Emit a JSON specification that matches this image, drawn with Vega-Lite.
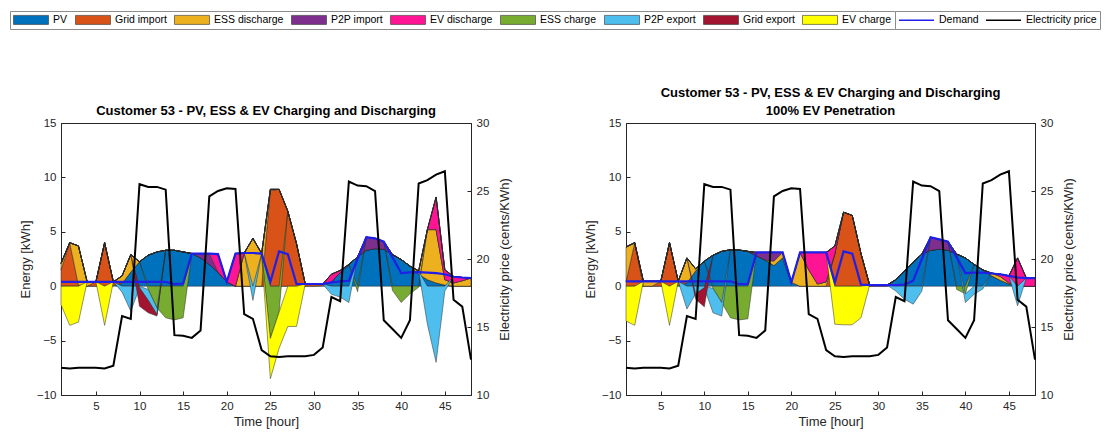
{
"$schema": "https://vega.github.io/schema/vega-lite/v6.json",
"padding": {"left": 9, "top": 10, "right": 5, "bottom": 5},
"bounds": "flush",
"spacing": 155,
"datasets": {
"stackorder": [{"series":"PV","rank":1},{"series":"Grid import","rank":2},{"series":"ESS discharge","rank":3},{"series":"P2P import","rank":4},{"series":"EV discharge","rank":5},{"series":"ESS charge","rank":6},{"series":"P2P export","rank":7},{"series":"Grid export","rank":8},{"series":"EV charge","rank":9}],
"left": [
{"h":1,"PV":0,"Grid import":1.5,"ESS discharge":0.6,"P2P import":0,"EV discharge":0,"ESS charge":0,"P2P export":0,"Grid export":0,"EV charge":-1.7,"Demand":0.4,"Price":12.0},
{"h":2,"PV":0,"Grid import":4.0,"ESS discharge":0,"P2P import":0,"EV discharge":0,"ESS charge":0,"P2P export":0,"Grid export":0,"EV charge":-3.6,"Demand":0.4,"Price":11.95},
{"h":3,"PV":0,"Grid import":0.1,"ESS discharge":3.6,"P2P import":0,"EV discharge":0,"ESS charge":0,"P2P export":0,"Grid export":0,"EV charge":-3.3,"Demand":0.4,"Price":12.0},
{"h":4,"PV":0,"Grid import":0,"ESS discharge":0.4,"P2P import":0,"EV discharge":0,"ESS charge":0,"P2P export":0,"Grid export":0,"EV charge":0,"Demand":0.4,"Price":12.0},
{"h":5,"PV":0,"Grid import":0.4,"ESS discharge":0,"P2P import":0,"EV discharge":0,"ESS charge":0,"P2P export":0,"Grid export":0,"EV charge":0,"Demand":0.4,"Price":12.0},
{"h":6,"PV":0,"Grid import":4.0,"ESS discharge":0,"P2P import":0,"EV discharge":0,"ESS charge":0,"P2P export":0,"Grid export":0,"EV charge":-3.6,"Demand":0.4,"Price":11.95},
{"h":7,"PV":0.05,"Grid import":0.35,"ESS discharge":0,"P2P import":0,"EV discharge":0,"ESS charge":0,"P2P export":0,"Grid export":0,"EV charge":0,"Demand":0.4,"Price":12.15},
{"h":8,"PV":0.25,"Grid import":0,"ESS discharge":0.7,"P2P import":0,"EV discharge":0,"ESS charge":0,"P2P export":-0.55,"Grid export":0,"EV charge":0,"Demand":0.4,"Price":15.8},
{"h":9,"PV":1.3,"Grid import":0,"ESS discharge":1.6,"P2P import":0,"EV discharge":0,"ESS charge":0,"P2P export":-2.3,"Grid export":0,"EV charge":0,"Demand":0.4,"Price":15.6},
{"h":10,"PV":2.25,"Grid import":0,"ESS discharge":0,"P2P import":0,"EV discharge":0,"ESS charge":0,"P2P export":-0.15,"Grid export":-1.7,"EV charge":0,"Demand":0.4,"Price":25.5},
{"h":11,"PV":2.85,"Grid import":0,"ESS discharge":0,"P2P import":0,"EV discharge":0,"ESS charge":-0.3,"P2P export":-1.0,"Grid export":-1.15,"EV charge":0,"Demand":0.4,"Price":25.3},
{"h":12,"PV":3.15,"Grid import":0,"ESS discharge":0,"P2P import":0,"EV discharge":0,"ESS charge":-2.0,"P2P export":-0.6,"Grid export":-0.15,"EV charge":0,"Demand":0.4,"Price":25.3},
{"h":13,"PV":3.3,"Grid import":0,"ESS discharge":0,"P2P import":0,"EV discharge":0,"ESS charge":-2.9,"P2P export":0,"Grid export":0,"EV charge":0,"Demand":0.4,"Price":25.1},
{"h":14,"PV":3.3,"Grid import":0,"ESS discharge":0,"P2P import":0,"EV discharge":0,"ESS charge":-3.1,"P2P export":0,"Grid export":0,"EV charge":0,"Demand":0.2,"Price":14.4},
{"h":15,"PV":3.15,"Grid import":0,"ESS discharge":0,"P2P import":0,"EV discharge":0,"ESS charge":-2.9,"P2P export":0,"Grid export":0,"EV charge":0,"Demand":0.25,"Price":14.35},
{"h":16,"PV":3.0,"Grid import":0,"ESS discharge":0,"P2P import":0,"EV discharge":0,"ESS charge":0,"P2P export":0,"Grid export":0,"EV charge":0,"Demand":3.0,"Price":14.2},
{"h":17,"PV":2.6,"Grid import":0,"ESS discharge":0,"P2P import":0.4,"EV discharge":0,"ESS charge":0,"P2P export":0,"Grid export":0,"EV charge":0,"Demand":3.0,"Price":14.75},
{"h":18,"PV":2.0,"Grid import":0,"ESS discharge":0,"P2P import":1.0,"EV discharge":0,"ESS charge":0,"P2P export":0,"Grid export":0,"EV charge":0,"Demand":3.0,"Price":24.6},
{"h":19,"PV":1.3,"Grid import":0,"ESS discharge":0,"P2P import":0,"EV discharge":1.65,"ESS charge":0,"P2P export":0,"Grid export":0,"EV charge":0,"Demand":2.95,"Price":25.0},
{"h":20,"PV":0.4,"Grid import":0,"ESS discharge":0,"P2P import":0,"EV discharge":0,"ESS charge":0,"P2P export":0,"Grid export":0,"EV charge":0,"Demand":0.4,"Price":25.2},
{"h":21,"PV":0,"Grid import":0,"ESS discharge":0,"P2P import":0,"EV discharge":3.0,"ESS charge":0,"P2P export":0,"Grid export":0,"EV charge":0,"Demand":3.0,"Price":25.15},
{"h":22,"PV":0,"Grid import":0,"ESS discharge":3.05,"P2P import":0,"EV discharge":0,"ESS charge":0,"P2P export":0,"Grid export":0,"EV charge":0,"Demand":3.05,"Price":15.95},
{"h":23,"PV":0,"Grid import":0,"ESS discharge":4.4,"P2P import":0,"EV discharge":0,"ESS charge":0,"P2P export":-1.3,"Grid export":0,"EV charge":0,"Demand":3.05,"Price":15.6},
{"h":24,"PV":0,"Grid import":0,"ESS discharge":3.0,"P2P import":0,"EV discharge":0,"ESS charge":0,"P2P export":0,"Grid export":0,"EV charge":0,"Demand":3.0,"Price":13.3},
{"h":25,"PV":0,"Grid import":8.8,"ESS discharge":0.1,"P2P import":0,"EV discharge":0,"ESS charge":-4.8,"P2P export":0,"Grid export":0,"EV charge":-3.7,"Demand":0.4,"Price":12.85},
{"h":26,"PV":0,"Grid import":8.9,"ESS discharge":0,"P2P import":0,"EV discharge":0,"ESS charge":-2.4,"P2P export":0,"Grid export":0,"EV charge":-3.3,"Demand":3.2,"Price":12.8},
{"h":27,"PV":0,"Grid import":6.9,"ESS discharge":0,"P2P import":0,"EV discharge":0,"ESS charge":0,"P2P export":0,"Grid export":0,"EV charge":-3.7,"Demand":2.95,"Price":12.85},
{"h":28,"PV":0,"Grid import":3.9,"ESS discharge":0,"P2P import":0,"EV discharge":0,"ESS charge":0,"P2P export":0,"Grid export":0,"EV charge":-3.7,"Demand":0.2,"Price":12.85},
{"h":29,"PV":0,"Grid import":0.2,"ESS discharge":0,"P2P import":0,"EV discharge":0,"ESS charge":0,"P2P export":0,"Grid export":0,"EV charge":0,"Demand":0.2,"Price":12.85},
{"h":30,"PV":0,"Grid import":0.2,"ESS discharge":0,"P2P import":0,"EV discharge":0,"ESS charge":0,"P2P export":0,"Grid export":0,"EV charge":0,"Demand":0.2,"Price":12.95},
{"h":31,"PV":0.05,"Grid import":0.15,"ESS discharge":0,"P2P import":0,"EV discharge":0,"ESS charge":0,"P2P export":0,"Grid export":0,"EV charge":0,"Demand":0.2,"Price":13.5},
{"h":32,"PV":0.4,"Grid import":0,"ESS discharge":0,"P2P import":0,"EV discharge":0.7,"ESS charge":0,"P2P export":-0.75,"Grid export":0,"EV charge":0,"Demand":0.35,"Price":17.2},
{"h":33,"PV":1.25,"Grid import":0,"ESS discharge":0,"P2P import":0,"EV discharge":0.2,"ESS charge":0,"P2P export":-1.0,"Grid export":0,"EV charge":0,"Demand":0.45,"Price":16.9},
{"h":34,"PV":2.0,"Grid import":0,"ESS discharge":0,"P2P import":0,"EV discharge":0,"ESS charge":0,"P2P export":-1.5,"Grid export":0,"EV charge":0,"Demand":0.5,"Price":25.7},
{"h":35,"PV":2.7,"Grid import":0,"ESS discharge":0,"P2P import":0,"EV discharge":0,"ESS charge":-0.5,"P2P export":0,"Grid export":0,"EV charge":0,"Demand":2.5,"Price":25.4},
{"h":36,"PV":3.3,"Grid import":0,"ESS discharge":0,"P2P import":1.2,"EV discharge":0,"ESS charge":0,"P2P export":0,"Grid export":0,"EV charge":0,"Demand":4.5,"Price":25.35},
{"h":37,"PV":3.45,"Grid import":0,"ESS discharge":0,"P2P import":0.95,"EV discharge":0,"ESS charge":0,"P2P export":0,"Grid export":0,"EV charge":0,"Demand":4.4,"Price":25.0},
{"h":38,"PV":3.4,"Grid import":0,"ESS discharge":0,"P2P import":0.7,"EV discharge":0,"ESS charge":0,"P2P export":0,"Grid export":0,"EV charge":0,"Demand":4.1,"Price":15.5},
{"h":39,"PV":2.9,"Grid import":0,"ESS discharge":0,"P2P import":0,"EV discharge":0,"ESS charge":-0.4,"P2P export":0,"Grid export":0,"EV charge":0,"Demand":2.65,"Price":14.85},
{"h":40,"PV":2.45,"Grid import":0,"ESS discharge":0,"P2P import":0,"EV discharge":0,"ESS charge":-1.5,"P2P export":0,"Grid export":0,"EV charge":0,"Demand":1.2,"Price":14.2},
{"h":41,"PV":1.85,"Grid import":0,"ESS discharge":0,"P2P import":0,"EV discharge":0,"ESS charge":-0.7,"P2P export":0,"Grid export":0,"EV charge":0,"Demand":1.27,"Price":15.5},
{"h":42,"PV":1.1,"Grid import":0,"ESS discharge":0.3,"P2P import":0,"EV discharge":0,"ESS charge":-0.1,"P2P export":0,"Grid export":0,"EV charge":0,"Demand":1.3,"Price":25.55},
{"h":43,"PV":0.6,"Grid import":0,"ESS discharge":4.6,"P2P import":0,"EV discharge":0,"ESS charge":0,"P2P export":-3.5,"Grid export":0,"EV charge":0,"Demand":1.25,"Price":25.8},
{"h":44,"PV":0.3,"Grid import":0,"ESS discharge":4.9,"P2P import":0,"EV discharge":3.0,"ESS charge":0,"P2P export":-7.0,"Grid export":0,"EV charge":0,"Demand":1.2,"Price":26.2},
{"h":45,"PV":0.1,"Grid import":0,"ESS discharge":0.5,"P2P import":0,"EV discharge":0.9,"ESS charge":0,"P2P export":-0.45,"Grid export":0,"EV charge":0,"Demand":1.1,"Price":26.45},
{"h":46,"PV":0,"Grid import":0,"ESS discharge":0.3,"P2P import":0,"EV discharge":0.6,"ESS charge":0,"P2P export":0,"Grid export":0,"EV charge":0,"Demand":0.87,"Price":17.0},
{"h":47,"PV":0,"Grid import":0,"ESS discharge":0.5,"P2P import":0,"EV discharge":0.3,"ESS charge":0,"P2P export":0,"Grid export":0,"EV charge":0,"Demand":0.8,"Price":16.5},
{"h":48,"PV":0,"Grid import":0,"ESS discharge":0.75,"P2P import":0,"EV discharge":0,"ESS charge":0,"P2P export":0,"Grid export":0,"EV charge":0,"Demand":0.75,"Price":12.6}
],
"right": [
{"h":1,"PV":0,"Grid import":0.4,"ESS discharge":3.2,"P2P import":0,"EV discharge":0,"ESS charge":0,"P2P export":0,"Grid export":0,"EV charge":-3.2,"Demand":0.45,"Price":12.0},
{"h":2,"PV":0,"Grid import":4.0,"ESS discharge":0,"P2P import":0,"EV discharge":0,"ESS charge":0,"P2P export":0,"Grid export":0,"EV charge":-3.6,"Demand":0.45,"Price":11.95},
{"h":3,"PV":0,"Grid import":0,"ESS discharge":0.45,"P2P import":0,"EV discharge":0,"ESS charge":0,"P2P export":0,"Grid export":0,"EV charge":0,"Demand":0.45,"Price":12.0},
{"h":4,"PV":0,"Grid import":0,"ESS discharge":0.45,"P2P import":0,"EV discharge":0,"ESS charge":0,"P2P export":0,"Grid export":0,"EV charge":0,"Demand":0.45,"Price":12.0},
{"h":5,"PV":0,"Grid import":0.45,"ESS discharge":0,"P2P import":0,"EV discharge":0,"ESS charge":0,"P2P export":0,"Grid export":0,"EV charge":0,"Demand":0.45,"Price":12.0},
{"h":6,"PV":0,"Grid import":4.0,"ESS discharge":0,"P2P import":0,"EV discharge":0,"ESS charge":0,"P2P export":0,"Grid export":0,"EV charge":-3.6,"Demand":0.45,"Price":11.95},
{"h":7,"PV":0.05,"Grid import":0.4,"ESS discharge":0,"P2P import":0,"EV discharge":0,"ESS charge":0,"P2P export":0,"Grid export":0,"EV charge":0,"Demand":0.45,"Price":12.15},
{"h":8,"PV":0.3,"Grid import":0,"ESS discharge":2.3,"P2P import":0,"EV discharge":0,"ESS charge":0,"P2P export":-2.1,"Grid export":0,"EV charge":0,"Demand":0.45,"Price":15.8},
{"h":9,"PV":1.4,"Grid import":0,"ESS discharge":0.2,"P2P import":0,"EV discharge":0,"ESS charge":0,"P2P export":-0.7,"Grid export":-0.5,"EV charge":0,"Demand":0.45,"Price":15.6},
{"h":10,"PV":2.3,"Grid import":0,"ESS discharge":0,"P2P import":0,"EV discharge":0,"ESS charge":0,"P2P export":-0.15,"Grid export":-1.75,"EV charge":0,"Demand":0.45,"Price":25.5},
{"h":11,"PV":2.85,"Grid import":0,"ESS discharge":0,"P2P import":0,"EV discharge":0,"ESS charge":-0.2,"P2P export":-2.25,"Grid export":0,"EV charge":0,"Demand":0.45,"Price":25.3},
{"h":12,"PV":3.2,"Grid import":0,"ESS discharge":0,"P2P import":0,"EV discharge":0,"ESS charge":-1.5,"P2P export":-1.25,"Grid export":0,"EV charge":0,"Demand":0.45,"Price":25.3},
{"h":13,"PV":3.35,"Grid import":0,"ESS discharge":0,"P2P import":0,"EV discharge":0,"ESS charge":-2.9,"P2P export":0,"Grid export":0,"EV charge":0,"Demand":0.45,"Price":25.1},
{"h":14,"PV":3.32,"Grid import":0,"ESS discharge":0,"P2P import":0,"EV discharge":0,"ESS charge":-3.1,"P2P export":0,"Grid export":0,"EV charge":0,"Demand":0.2,"Price":14.4},
{"h":15,"PV":3.2,"Grid import":0,"ESS discharge":0,"P2P import":0,"EV discharge":0,"ESS charge":-3.0,"P2P export":0,"Grid export":0,"EV charge":0,"Demand":0.2,"Price":14.35},
{"h":16,"PV":2.8,"Grid import":0,"ESS discharge":0,"P2P import":0.3,"EV discharge":0,"ESS charge":0,"P2P export":0,"Grid export":0,"EV charge":0,"Demand":3.1,"Price":14.2},
{"h":17,"PV":2.4,"Grid import":0,"ESS discharge":0,"P2P import":0.7,"EV discharge":0,"ESS charge":0,"P2P export":0,"Grid export":0,"EV charge":0,"Demand":3.1,"Price":14.75},
{"h":18,"PV":1.9,"Grid import":0,"ESS discharge":0.4,"P2P import":0.8,"EV discharge":0,"ESS charge":0,"P2P export":0,"Grid export":0,"EV charge":0,"Demand":3.1,"Price":24.6},
{"h":19,"PV":2.6,"Grid import":0,"ESS discharge":0.5,"P2P import":0,"EV discharge":0,"ESS charge":0,"P2P export":0,"Grid export":0,"EV charge":0,"Demand":3.1,"Price":25.0},
{"h":20,"PV":0.35,"Grid import":0,"ESS discharge":0,"P2P import":0,"EV discharge":0,"ESS charge":0,"P2P export":0,"Grid export":0,"EV charge":0,"Demand":0.35,"Price":25.2},
{"h":21,"PV":0,"Grid import":0,"ESS discharge":3.1,"P2P import":0,"EV discharge":0,"ESS charge":0,"P2P export":0,"Grid export":0,"EV charge":0,"Demand":3.1,"Price":25.15},
{"h":22,"PV":0,"Grid import":0,"ESS discharge":1.5,"P2P import":0,"EV discharge":1.6,"ESS charge":0,"P2P export":0,"Grid export":0,"EV charge":0,"Demand":3.1,"Price":15.95},
{"h":23,"PV":0,"Grid import":0,"ESS discharge":0.2,"P2P import":0,"EV discharge":2.9,"ESS charge":0,"P2P export":0,"Grid export":0,"EV charge":0,"Demand":3.1,"Price":15.6},
{"h":24,"PV":0,"Grid import":0,"ESS discharge":0.4,"P2P import":0,"EV discharge":2.7,"ESS charge":0,"P2P export":0,"Grid export":0,"EV charge":0,"Demand":3.1,"Price":13.3},
{"h":25,"PV":0,"Grid import":3.0,"ESS discharge":0,"P2P import":0,"EV discharge":0.7,"ESS charge":0,"P2P export":0,"Grid export":0,"EV charge":-3.5,"Demand":0.35,"Price":12.85},
{"h":26,"PV":0,"Grid import":6.8,"ESS discharge":0,"P2P import":0,"EV discharge":0,"ESS charge":0,"P2P export":0,"Grid export":0,"EV charge":-3.55,"Demand":3.2,"Price":12.8},
{"h":27,"PV":0,"Grid import":6.5,"ESS discharge":0,"P2P import":0,"EV discharge":0,"ESS charge":0,"P2P export":0,"Grid export":0,"EV charge":-3.55,"Demand":3.0,"Price":12.85},
{"h":28,"PV":0,"Grid import":3.0,"ESS discharge":0,"P2P import":0,"EV discharge":0,"ESS charge":0,"P2P export":0,"Grid export":0,"EV charge":-2.9,"Demand":0.15,"Price":12.85},
{"h":29,"PV":0,"Grid import":0.1,"ESS discharge":0,"P2P import":0,"EV discharge":0,"ESS charge":0,"P2P export":0,"Grid export":0,"EV charge":0,"Demand":0.1,"Price":12.85},
{"h":30,"PV":0,"Grid import":0.1,"ESS discharge":0,"P2P import":0,"EV discharge":0,"ESS charge":0,"P2P export":0,"Grid export":0,"EV charge":0,"Demand":0.1,"Price":12.95},
{"h":31,"PV":0,"Grid import":0.1,"ESS discharge":0,"P2P import":0,"EV discharge":0,"ESS charge":0,"P2P export":0,"Grid export":0,"EV charge":0,"Demand":0.1,"Price":13.5},
{"h":32,"PV":0.6,"Grid import":0,"ESS discharge":0,"P2P import":0,"EV discharge":0,"ESS charge":0,"P2P export":-0.45,"Grid export":0,"EV charge":0,"Demand":0.1,"Price":17.2},
{"h":33,"PV":1.4,"Grid import":0,"ESS discharge":0,"P2P import":0,"EV discharge":0,"ESS charge":0,"P2P export":-1.2,"Grid export":0,"EV charge":0,"Demand":0.15,"Price":16.9},
{"h":34,"PV":2.2,"Grid import":0,"ESS discharge":0,"P2P import":0,"EV discharge":0,"ESS charge":0,"P2P export":-1.65,"Grid export":0,"EV charge":0,"Demand":0.5,"Price":25.7},
{"h":35,"PV":2.95,"Grid import":0,"ESS discharge":0,"P2P import":0,"EV discharge":0,"ESS charge":0,"P2P export":-0.45,"Grid export":0,"EV charge":0,"Demand":2.5,"Price":25.4},
{"h":36,"PV":3.3,"Grid import":0,"ESS discharge":0,"P2P import":1.2,"EV discharge":0,"ESS charge":0,"P2P export":0,"Grid export":0,"EV charge":0,"Demand":4.5,"Price":25.35},
{"h":37,"PV":3.4,"Grid import":0,"ESS discharge":0,"P2P import":0.9,"EV discharge":0,"ESS charge":0,"P2P export":0,"Grid export":0,"EV charge":0,"Demand":4.3,"Price":25.0},
{"h":38,"PV":3.3,"Grid import":0,"ESS discharge":0,"P2P import":0.8,"EV discharge":0,"ESS charge":0,"P2P export":0,"Grid export":0,"EV charge":0,"Demand":4.1,"Price":15.5},
{"h":39,"PV":2.95,"Grid import":0,"ESS discharge":0,"P2P import":0,"EV discharge":0,"ESS charge":-0.3,"P2P export":0,"Grid export":0,"EV charge":0,"Demand":2.65,"Price":14.85},
{"h":40,"PV":2.6,"Grid import":0,"ESS discharge":0,"P2P import":0,"EV discharge":0,"ESS charge":-0.7,"P2P export":-0.8,"Grid export":0,"EV charge":0,"Demand":1.2,"Price":14.2},
{"h":41,"PV":2.0,"Grid import":0,"ESS discharge":0,"P2P import":0,"EV discharge":0,"ESS charge":0,"P2P export":-0.75,"Grid export":0,"EV charge":0,"Demand":1.25,"Price":15.5},
{"h":42,"PV":1.5,"Grid import":0,"ESS discharge":0,"P2P import":0,"EV discharge":0,"ESS charge":0,"P2P export":-0.25,"Grid export":0,"EV charge":0,"Demand":1.25,"Price":25.55},
{"h":43,"PV":0.95,"Grid import":0,"ESS discharge":0.25,"P2P import":0,"EV discharge":0,"ESS charge":0,"P2P export":0,"Grid export":0,"EV charge":0,"Demand":1.17,"Price":25.8},
{"h":44,"PV":0.55,"Grid import":0,"ESS discharge":0.35,"P2P import":0,"EV discharge":0.2,"ESS charge":0,"P2P export":0,"Grid export":0,"EV charge":0,"Demand":1.1,"Price":26.2},
{"h":45,"PV":0.2,"Grid import":0,"ESS discharge":0.1,"P2P import":0,"EV discharge":0.65,"ESS charge":0,"P2P export":0,"Grid export":0,"EV charge":0,"Demand":0.95,"Price":26.45},
{"h":46,"PV":0,"Grid import":0,"ESS discharge":0,"P2P import":0,"EV discharge":2.6,"ESS charge":0,"P2P export":-1.8,"Grid export":0,"EV charge":0,"Demand":0.8,"Price":17.0},
{"h":47,"PV":0,"Grid import":0,"ESS discharge":0,"P2P import":0,"EV discharge":0.75,"ESS charge":0,"P2P export":0,"Grid export":0,"EV charge":0,"Demand":0.75,"Price":16.5},
{"h":48,"PV":0,"Grid import":0,"ESS discharge":0,"P2P import":0,"EV discharge":0.75,"ESS charge":0,"P2P export":0,"Grid export":0,"EV charge":0,"Demand":0.75,"Price":12.6}
]
},
"hconcat": [
{
"width": 410, "height": 272,
"title": {"text": "Customer 53 - PV, ESS & EV Charging and Discharging"},
"data": {"name": "left"},
"layer": [
{"layer": [
{"transform": [{"fold": ["PV","Grid import","ESS discharge","P2P import","EV discharge","ESS charge","P2P export","Grid export","EV charge"], "as": ["series","value"]}, {"lookup": "series", "from": {"data": {"name": "stackorder"}, "key": "series", "fields": ["rank"]}}],
"mark": {"type": "area", "stroke": "#2a2a2a", "strokeWidth": 0.5},
"encoding": {
"x": {"field": "h", "type": "quantitative", "scale": {"domain": [1,48], "nice": false, "zero": false}, "axis": {"values": [5,10,15,20,25,30,35,40,45]}, "title": "Time [hour]"},
"y": {"field": "value", "type": "quantitative", "stack": "zero", "scale": {"domain": [-10,15], "nice": false, "zero": false}, "axis": {"orient": "left", "values": [-10,-5,0,5,10,15]}, "title": "Energy [kWh]"},
"color": {"field": "series", "type": "nominal",
 "scale": {"domain": ["PV","Grid import","ESS discharge","P2P import","EV discharge","ESS charge","P2P export","Grid export","EV charge"], "range": ["#0072BD","#D95319","#EDB120","#7E2F8E","#FF1493","#77AC30","#4DBEEE","#A2142F","#FFFF00"]},
 "legend": {"orient": "none", "legendX": -51, "legendY": -112, "direction": "horizontal", "columns": 9, "title": null, "symbolType": "M-1,-0.9H6V0.9H-1Z", "symbolSize": 100, "symbolStrokeColor": "#333333", "symbolStrokeWidth": 0.6, "labelOffset": 29, "columnPadding": 6, "padding": 3, "strokeColor": "#8c8c8c", "fillColor": "#ffffff", "labelFont": "Liberation Sans", "labelFontSize": 10.5, "labelColor": "#000000"}},
"order": {"field": "rank", "type": "quantitative"}
}},
{"mark": {"type": "line", "strokeWidth": 2.2},
"encoding": {
"x": {"field": "h", "type": "quantitative", "scale": {"domain": [1,48], "nice": false, "zero": false}, "axis": {"values": [5,10,15,20,25,30,35,40,45]}, "title": "Time [hour]"},
"y": {"field": "Demand", "type": "quantitative", "scale": {"domain": [-10,15], "nice": false, "zero": false}, "axis": {"orient": "left", "values": [-10,-5,0,5,10,15]}, "title": "Energy [kWh]"},
"stroke": {"datum": "Demand", "type": "nominal", "scale": {"domain": ["Demand","Electricity price"], "range": ["#1f1fe8","#000000"]},
 "legend": {"orient": "none", "legendX": 834, "legendY": -112, "direction": "horizontal", "columns": 2, "title": null, "symbolType": "M-1,0H6", "symbolSize": 100, "symbolStrokeWidth": 1.6, "labelOffset": 29, "columnPadding": 3, "padding": 3, "strokeColor": "#8c8c8c", "fillColor": "#ffffff", "labelFont": "Liberation Sans", "labelFontSize": 10.5, "labelColor": "#000000"}}
}}
]},
{"mark": {"type": "line", "strokeWidth": 2},
"encoding": {
"x": {"field": "h", "type": "quantitative", "scale": {"domain": [1,48], "nice": false, "zero": false}, "axis": {"values": [5,10,15,20,25,30,35,40,45]}, "title": "Time [hour]"},
"y": {"field": "Price", "type": "quantitative", "scale": {"domain": [10,30], "nice": false, "zero": false}, "axis": {"orient": "right", "values": [10,15,20,25,30], "titlePadding": 10, "titleAngle": 270, "titleBaseline": "top"}, "title": "Electricity price (cents/KWh)"},
"stroke": {"datum": "Electricity price", "type": "nominal", "scale": {"domain": ["Demand","Electricity price"], "range": ["#1f1fe8","#000000"]},
 "legend": {"orient": "none", "legendX": 834, "legendY": -112, "direction": "horizontal", "columns": 2, "title": null, "symbolType": "M-1,0H6", "symbolSize": 100, "symbolStrokeWidth": 1.6, "labelOffset": 29, "columnPadding": 3, "padding": 3, "strokeColor": "#8c8c8c", "fillColor": "#ffffff", "labelFont": "Liberation Sans", "labelFontSize": 10.5, "labelColor": "#000000"}}
}}
],
"resolve": {"scale": {"y": "independent"}}
},
{
"width": 409, "height": 272,
"title": {"text": ["Customer 53 - PV, ESS & EV Charging and Discharging", "100% EV Penetration"]},
"data": {"name": "right"},
"layer": [
{"layer": [
{"transform": [{"fold": ["PV","Grid import","ESS discharge","P2P import","EV discharge","ESS charge","P2P export","Grid export","EV charge"], "as": ["series","value"]}, {"lookup": "series", "from": {"data": {"name": "stackorder"}, "key": "series", "fields": ["rank"]}}],
"mark": {"type": "area", "stroke": "#2a2a2a", "strokeWidth": 0.5},
"encoding": {
"x": {"field": "h", "type": "quantitative", "scale": {"domain": [1,48], "nice": false, "zero": false}, "axis": {"values": [5,10,15,20,25,30,35,40,45]}, "title": "Time [hour]"},
"y": {"field": "value", "type": "quantitative", "stack": "zero", "scale": {"domain": [-10,15], "nice": false, "zero": false}, "axis": {"orient": "left", "values": [-10,-5,0,5,10,15]}, "title": "Energy [kWh]"},
"color": {"field": "series", "type": "nominal",
 "scale": {"domain": ["PV","Grid import","ESS discharge","P2P import","EV discharge","ESS charge","P2P export","Grid export","EV charge"], "range": ["#0072BD","#D95319","#EDB120","#7E2F8E","#FF1493","#77AC30","#4DBEEE","#A2142F","#FFFF00"]},
 "legend": {"orient": "none", "legendX": -51, "legendY": -112, "direction": "horizontal", "columns": 9, "title": null, "symbolType": "M-1,-0.9H6V0.9H-1Z", "symbolSize": 100, "symbolStrokeColor": "#333333", "symbolStrokeWidth": 0.6, "labelOffset": 29, "columnPadding": 6, "padding": 3, "strokeColor": "#8c8c8c", "fillColor": "#ffffff", "labelFont": "Liberation Sans", "labelFontSize": 10.5, "labelColor": "#000000"}},
"order": {"field": "rank", "type": "quantitative"}
}},
{"mark": {"type": "line", "strokeWidth": 2.2},
"encoding": {
"x": {"field": "h", "type": "quantitative", "scale": {"domain": [1,48], "nice": false, "zero": false}, "axis": {"values": [5,10,15,20,25,30,35,40,45]}, "title": "Time [hour]"},
"y": {"field": "Demand", "type": "quantitative", "scale": {"domain": [-10,15], "nice": false, "zero": false}, "axis": {"orient": "left", "values": [-10,-5,0,5,10,15]}, "title": "Energy [kWh]"},
"stroke": {"datum": "Demand", "type": "nominal", "scale": {"domain": ["Demand","Electricity price"], "range": ["#1f1fe8","#000000"]},
 "legend": {"orient": "none", "legendX": 834, "legendY": -112, "direction": "horizontal", "columns": 2, "title": null, "symbolType": "M-1,0H6", "symbolSize": 100, "symbolStrokeWidth": 1.6, "labelOffset": 29, "columnPadding": 3, "padding": 3, "strokeColor": "#8c8c8c", "fillColor": "#ffffff", "labelFont": "Liberation Sans", "labelFontSize": 10.5, "labelColor": "#000000"}}
}}
]},
{"mark": {"type": "line", "strokeWidth": 2},
"encoding": {
"x": {"field": "h", "type": "quantitative", "scale": {"domain": [1,48], "nice": false, "zero": false}, "axis": {"values": [5,10,15,20,25,30,35,40,45]}, "title": "Time [hour]"},
"y": {"field": "Price", "type": "quantitative", "scale": {"domain": [10,30], "nice": false, "zero": false}, "axis": {"orient": "right", "values": [10,15,20,25,30], "titlePadding": 10, "titleAngle": 270, "titleBaseline": "top"}, "title": "Electricity price (cents/KWh)"},
"stroke": {"datum": "Electricity price", "type": "nominal", "scale": {"domain": ["Demand","Electricity price"], "range": ["#1f1fe8","#000000"]},
 "legend": {"orient": "none", "legendX": 834, "legendY": -112, "direction": "horizontal", "columns": 2, "title": null, "symbolType": "M-1,0H6", "symbolSize": 100, "symbolStrokeWidth": 1.6, "labelOffset": 29, "columnPadding": 3, "padding": 3, "strokeColor": "#8c8c8c", "fillColor": "#ffffff", "labelFont": "Liberation Sans", "labelFontSize": 10.5, "labelColor": "#000000"}}
}}
],
"resolve": {"scale": {"y": "independent"}}
}
],
"resolve": {"scale": {"color": "shared", "stroke": "shared"}, "legend": {"color": "shared", "stroke": "shared"}},
"config": {
"font": "Liberation Sans",
"view": {"stroke": "#262626", "strokeWidth": 1},
"axis": {"grid": false, "tickSize": -4, "tickColor": "#262626", "domainColor": "#262626", "labelFont": "Liberation Sans", "labelFontSize": 11.5, "labelColor": "#262626", "titleFont": "Liberation Sans", "titleFontSize": 13, "titleFontWeight": "normal", "titleColor": "#262626", "labelPadding": 9, "titlePadding": 4, "labelFlush": false, "labelOverlap": false},
"title": {"font": "Liberation Sans", "fontSize": 13, "fontWeight": "bold", "color": "#000000", "offset": -1, "lineHeight": 18, "anchor": "middle"}
}
}
